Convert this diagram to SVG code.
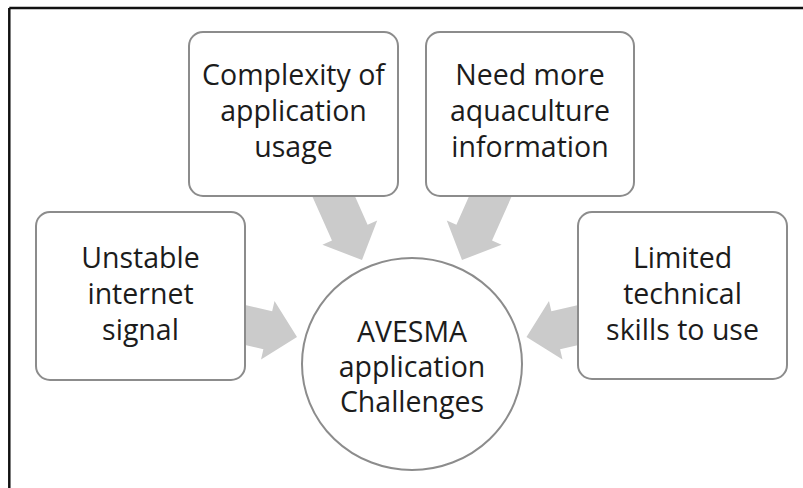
<svg xmlns="http://www.w3.org/2000/svg" xmlns:xlink="http://www.w3.org/1999/xlink" width="803" height="488" viewBox="0 0 803 488">
  <style>
    .box { fill: #ffffff; stroke: #8c8c8c; stroke-width: 2; }
    .lbl { font-family: "Open Sans", "Liberation Sans", sans-serif; font-size: 28.5px; fill: #1c1c1c; text-anchor: middle; }
    .arr { fill: #cbcbcb; stroke: none; }
  </style>
  <defs>
    <polygon id="blockArrow" points="0,0 -30,-30 -30,-19.5 -90,-19.5 -90,19.5 -30,19.5 -30,30"/>
  </defs>
  <rect x="0" y="0" width="803" height="488" fill="#ffffff"/>
  <g id="frame" fill="none" stroke="#111111" stroke-width="2.5">
    <line x1="9.3" y1="8" x2="803" y2="8"/>
    <line x1="9.3" y1="8" x2="9.3" y2="488"/>
  </g>
  <g id="connectors" class="arr">
    <use xlink:href="#blockArrow" href="#blockArrow" transform="translate(297,337) rotate(13)"/>
    <use xlink:href="#blockArrow" href="#blockArrow" transform="translate(526.5,337) rotate(167)"/>
    <use xlink:href="#blockArrow" href="#blockArrow" transform="translate(362,260) rotate(66)"/>
    <use xlink:href="#blockArrow" href="#blockArrow" transform="translate(462,260) rotate(114)"/>
  </g>
  <g id="node-complexity">
    <rect class="box" x="189" y="32" width="209" height="164" rx="14"/>
    <text class="lbl" x="293.5" y="85">Complexity of</text>
    <text class="lbl" x="293.5" y="121">application</text>
    <text class="lbl" x="293.5" y="157">usage</text>
  </g>
  <g id="node-need-more">
    <rect class="box" x="426" y="32" width="208" height="164" rx="14"/>
    <text class="lbl" x="530" y="85">Need more</text>
    <text class="lbl" x="530" y="121">aquaculture</text>
    <text class="lbl" x="530" y="157">information</text>
  </g>
  <g id="node-unstable">
    <rect class="box" x="36" y="212" width="209" height="168" rx="14"/>
    <text class="lbl" x="140.5" y="268">Unstable</text>
    <text class="lbl" x="140.5" y="304">internet</text>
    <text class="lbl" x="140.5" y="340">signal</text>
  </g>
  <g id="node-limited">
    <rect class="box" x="578" y="212" width="209" height="167" rx="14"/>
    <text class="lbl" x="682.5" y="268">Limited</text>
    <text class="lbl" x="682.5" y="304">technical</text>
    <text class="lbl" x="682.5" y="340">skills to use</text>
  </g>
  <g id="node-center">
    <ellipse class="box" cx="412" cy="364" rx="110" ry="106"/>
    <text class="lbl" x="412" y="341.5">AVESMA</text>
    <text class="lbl" x="412" y="376.5">application</text>
    <text class="lbl" x="412" y="411.5">Challenges</text>
  </g>
</svg>
